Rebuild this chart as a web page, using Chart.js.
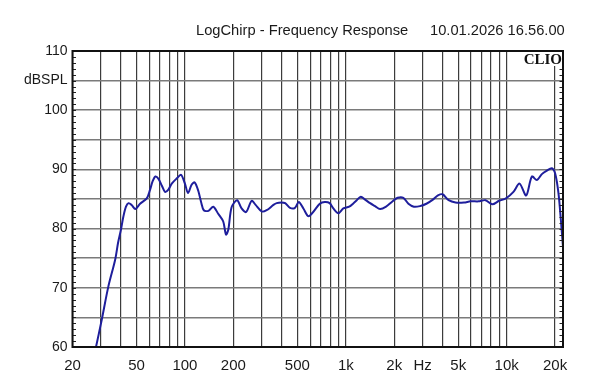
<!DOCTYPE html>
<html>
<head>
<meta charset="utf-8">
<script src="https://cdn.jsdelivr.net/npm/chart.js@4"></script>
<style>
html,body{margin:0;padding:0;background:#fff;}
#wrap{width:600px;height:384px;position:relative;}
</style>
</head>
<body>
<div id="wrap"><canvas id="c" width="600" height="384"></canvas></div>
<script>
// ---- data ----
const titleText = 'LogChirp - Frequency Response';
const dateText = '10.01.2026 16.56.00';
const logoText = 'CLIO';

const freqHz = [26.8, 28.0, 30.4, 33.4, 36.8, 38.4, 40.0, 41.4, 43.0, 44.6, 46.6, 49.2, 52.6, 57.9, 60.6, 63, 65.6, 68.5, 72, 75.2, 78.9, 82.8, 89.1, 94.5, 100, 104.5, 110, 115, 121, 126, 131, 140, 150, 161, 173, 180, 186, 195, 211, 225, 240, 260, 275, 300, 322, 355, 372, 398, 420, 450, 483, 510, 545, 585, 627, 689, 740, 794, 837, 899, 965, 1050, 1117, 1170, 1240, 1318, 1416, 1520, 1633, 1780, 1932, 2100, 2280, 2450, 2650, 2890, 3170, 3480, 3740, 3990, 4360, 4810, 5430, 5960, 6700, 7380, 8140, 8980, 9900, 11020, 12020, 13220, 14350, 15420, 16550, 17790, 19100, 20025, 20990, 21720, 22400];
const splDb  = [57.6, 60.0, 64.6, 70.2, 74.7, 77.6, 79.8, 82.0, 83.7, 84.3, 84.0, 83.3, 84.2, 85.1, 86.5, 88.0, 88.8, 88.4, 87.2, 86.2, 86.6, 87.6, 88.5, 89.1, 87.6, 86.0, 87.4, 87.8, 86.4, 84.5, 83.1, 83.0, 83.7, 82.5, 81.2, 79.0, 79.8, 83.6, 84.8, 83.4, 82.8, 84.7, 84.0, 82.9, 83.1, 84.0, 84.3, 84.4, 84.3, 83.5, 83.5, 84.5, 83.4, 82.1, 82.8, 84.2, 84.5, 84.3, 83.4, 82.6, 83.4, 83.7, 84.3, 84.8, 85.4, 84.9, 84.3, 83.8, 83.3, 83.7, 84.5, 85.2, 85.2, 84.2, 83.7, 83.8, 84.2, 84.9, 85.6, 85.8, 84.8, 84.4, 84.4, 84.6, 84.6, 84.8, 84.1, 84.7, 85.1, 86.2, 87.6, 85.6, 88.8, 88.2, 89.2, 89.8, 90.2, 89.3, 86.0, 81.5, 76.9];

const xGridValues = [20,30,40,50,60,70,80,90,100,200,300,400,500,600,700,800,900,1000,2000,3000,4000,5000,6000,7000,8000,9000,10000,20000];
const xTickLabels = {20:'20',50:'50',100:'100',200:'200',500:'500',1000:'1k',2000:'2k',3000:'Hz',5000:'5k',10000:'10k',20000:'20k'};
const yTickLabels = {110:'110',105:'dBSPL',100:'100',90:'90',80:'80',70:'70',60:'60'};
const xMin = 20, xMax = 22400, yMin = 60, yMax = 110;

// ---- chart ----
const points = freqHz.map((f,i)=>({x:f,y:splDb[i]}));

const decor = {
  id:'decor',
  afterDatasetsDraw(chart){
    const {ctx, chartArea:a, scales} = chart;
    const ys = scales.y;
    ctx.save();
    // minor ticks every 1 dB, inside, left and right
    ctx.strokeStyle = '#222';
    ctx.lineWidth = 1;
    for(let v=yMin; v<=yMax; v++){
      const p = Math.round(ys.getPixelForValue(v))+0.5;
      ctx.beginPath();
      ctx.moveTo(a.left, p); ctx.lineTo(a.left+3.5, p);
      ctx.moveTo(a.right-3.5, p); ctx.lineTo(a.right, p);
      ctx.stroke();
    }
    // logo
    ctx.fillStyle = '#fff';
    ctx.fillRect(a.right-43, a.top+1, 42, 14);
    ctx.fillStyle = '#111';
    ctx.font = 'bold 15px "Liberation Serif", serif';
    ctx.textAlign = 'right';
    ctx.textBaseline = 'alphabetic';
    ctx.fillText(logoText, a.right-1, a.top+12.5);
    // frame
    ctx.strokeStyle = '#111';
    ctx.lineWidth = 2;
    ctx.strokeRect(a.left, a.top, a.right-a.left, a.bottom-a.top);
    // header
    ctx.fillStyle = '#1a1a1a';
    ctx.font = '14.7px "Liberation Sans", Arial, sans-serif';
    ctx.textAlign = 'left';
    ctx.fillText(titleText, 196, 35);
    ctx.fillText(dateText, 430, 35);
    ctx.restore();
  }
};

new Chart(document.getElementById('c'), {
  type:'line',
  data:{datasets:[{
    data:points,
    borderColor:'#1e1e9c',
    borderWidth:2,
    pointRadius:0,
    tension:0.3,
    fill:false
  }]},
  options:{
    responsive:false,
    animation:false,
    events:[],
    layout:{padding:{left:0,right:37,top:51,bottom:0}},
    plugins:{legend:{display:false},tooltip:{enabled:false},title:{display:false}},
    scales:{
      x:{
        type:'logarithmic',
        min:xMin, max:xMax,
        afterBuildTicks(s){ s.ticks = xGridValues.map(v=>({value:v})); },
        afterFit(s){ s.height = 37; },
        grid:{color:'#3c3c3c', lineWidth:1.2, drawTicks:false},
        border:{display:false},
        ticks:{
          autoSkip:false, maxRotation:0, padding:10,
          color:'#1a1a1a',
          font:{family:'"Liberation Sans", Arial, sans-serif', size:15},
          callback(v){ return xTickLabels[v] !== undefined ? xTickLabels[v] : ''; }
        }
      },
      y:{
        type:'linear',
        min:yMin, max:yMax,
        afterFit(s){ s.width = 72.5; },
        grid:{color:'#7a7a7a', lineWidth:1.6, drawTicks:false},
        border:{display:false},
        ticks:{
          stepSize:5, autoSkip:false, padding:5,
          color:'#1a1a1a',
          font:{family:'"Liberation Sans", Arial, sans-serif', size:14},
          callback(v){ return yTickLabels[v] !== undefined ? yTickLabels[v] : ''; }
        }
      }
    }
  },
  plugins:[decor]
});
</script>
</body>
</html>
